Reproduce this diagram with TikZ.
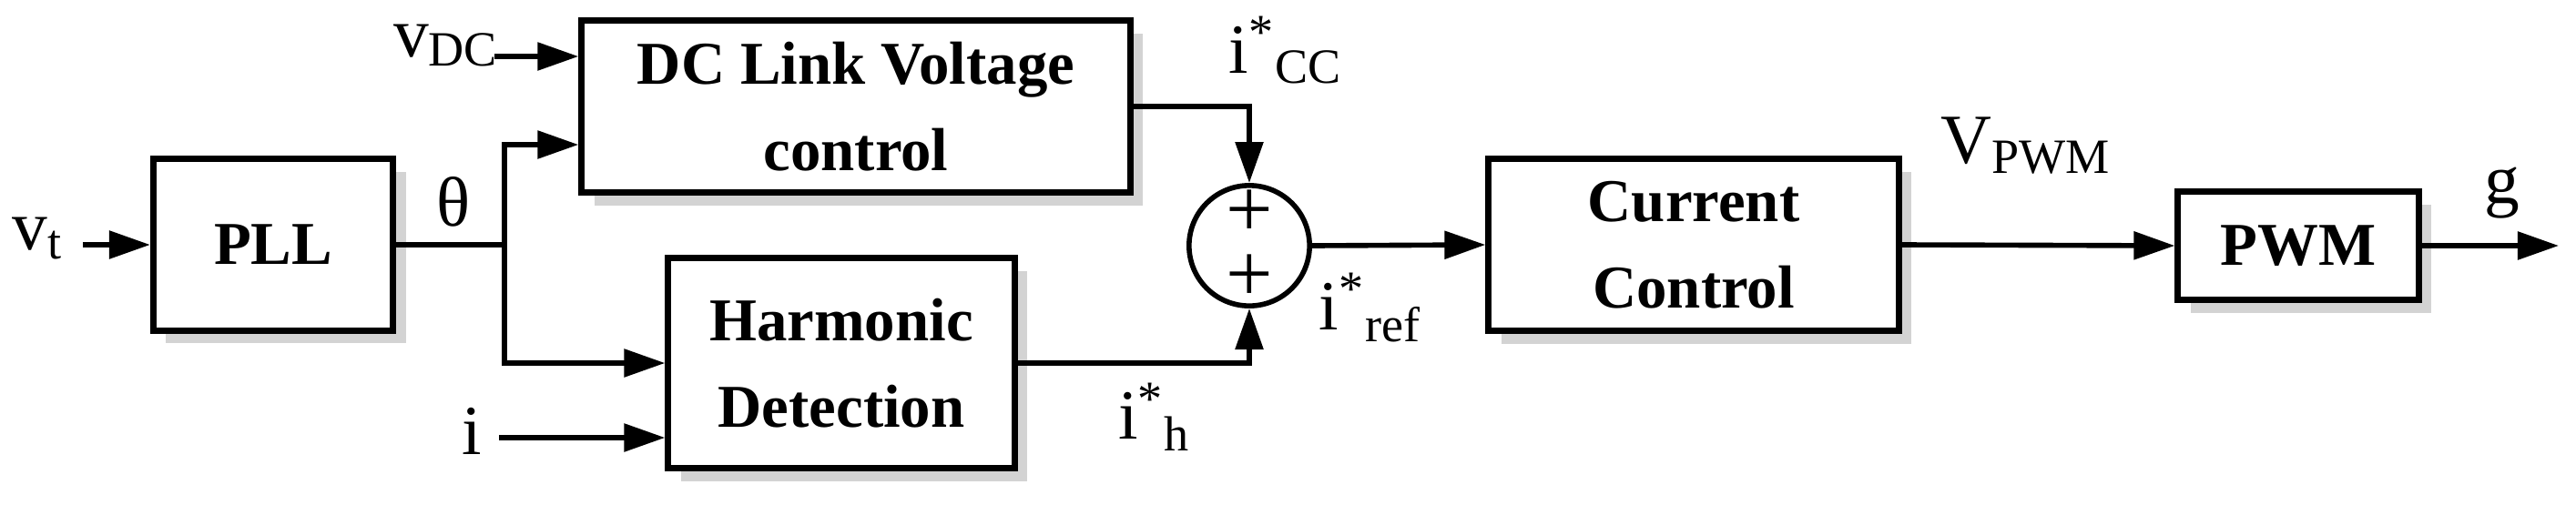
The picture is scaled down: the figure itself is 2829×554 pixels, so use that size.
\documentclass[tikz,border=0pt]{standalone}
\usepackage{fontspec}
\setmainfont{Liberation Serif}
\usetikzlibrary{arrows.meta,shadows}
\begin{document}
\begin{tikzpicture}[x=0.01cm,y=-0.01cm,
  blk/.style={draw,line width=2pt,fill=white,drop shadow={shadow xshift=4pt,shadow yshift=-4pt,opacity=0.35},font=\fontsize{19}{23}\selectfont\bfseries,align=center,inner sep=0pt},
  con/.style={line width=1.6pt,-{Triangle[length=0.45cm,width=0.3cm]}},
  ln/.style={line width=1.6pt},
  lbl/.style={font=\fontsize{22}{26}\selectfont,inner sep=0pt}]
\useasboundingbox (0,0) rectangle (2829,554);
\node[blk,minimum width=2.63cm,minimum height=1.88cm] (pll) at (300,269) {PLL};
\node[blk,minimum width=6.02cm,minimum height=1.89cm] (dc) at (940,117) {DC Link Voltage\\[4pt]control};
\node[blk,minimum width=3.80cm,minimum height=2.31cm] (hd) at (924,399) {Harmonic\\[4pt]Detection};
\node[blk,minimum width=4.50cm,minimum height=1.89cm] (cc) at (1860,269) {Current\\[4pt]Control};
\node[blk,minimum width=2.64cm,minimum height=1.19cm] (pwm) at (2524,270) {PWM};
\node[draw,circle,line width=1.6pt,minimum size=1.16cm,inner sep=0pt,fill=white,align=center,font=\fontsize{26}{22}\selectfont] (sum) at (1372,270) {+\\[-2pt]+};
\node[lbl,anchor=east] (vt) at (70,262) {v\textsubscript{t}};
\coordinate (vts) at (91,269);
\draw[con] (vts) -- (pll.west);
\node[lbl] (vdc) at (490,50) {v\textsubscript{DC}};
\coordinate (vdcs) at (543,62);
\draw[con] (vdcs) -- (dc.west |- vdcs);
\coordinate (br) at (554,269);
\draw[ln] (pll.east) -- (br);
\draw[con] (br) |- (dc.west |- 0,159);
\draw[con] (br) |- (hd.west |- 0,399);
\node[lbl] (th) at (498,222) {θ};
\node[lbl] (il) at (518,474) {i};
\coordinate (is) at (548,481);
\draw[con] (is) -- (hd.west |- is);
\draw[con] (dc.east |- 0,117) -| (sum.north);
\draw[con] (hd.east |- 0,399) -| (sum.south);
\node[lbl] (icc) at (1412,55) {i\textsuperscript{*}\textsubscript{CC}};
\node[lbl] (ih) at (1268,458) {i\textsuperscript{*}\textsubscript{h}};
\draw[con] (sum.east) -- (cc.west);
\node[lbl] (iref) at (1505,338) {i\textsuperscript{*}\textsubscript{ref}};
\draw[con] (cc.east) -- (pwm.west);
\node[lbl] (vpwm) at (2225,160) {V\textsubscript{PWM}};
\coordinate (gend) at (2810,270);
\draw[con] (pwm.east) -- (gend);
\node[lbl] (g) at (2748,212) {g};
\end{tikzpicture}
\end{document}
